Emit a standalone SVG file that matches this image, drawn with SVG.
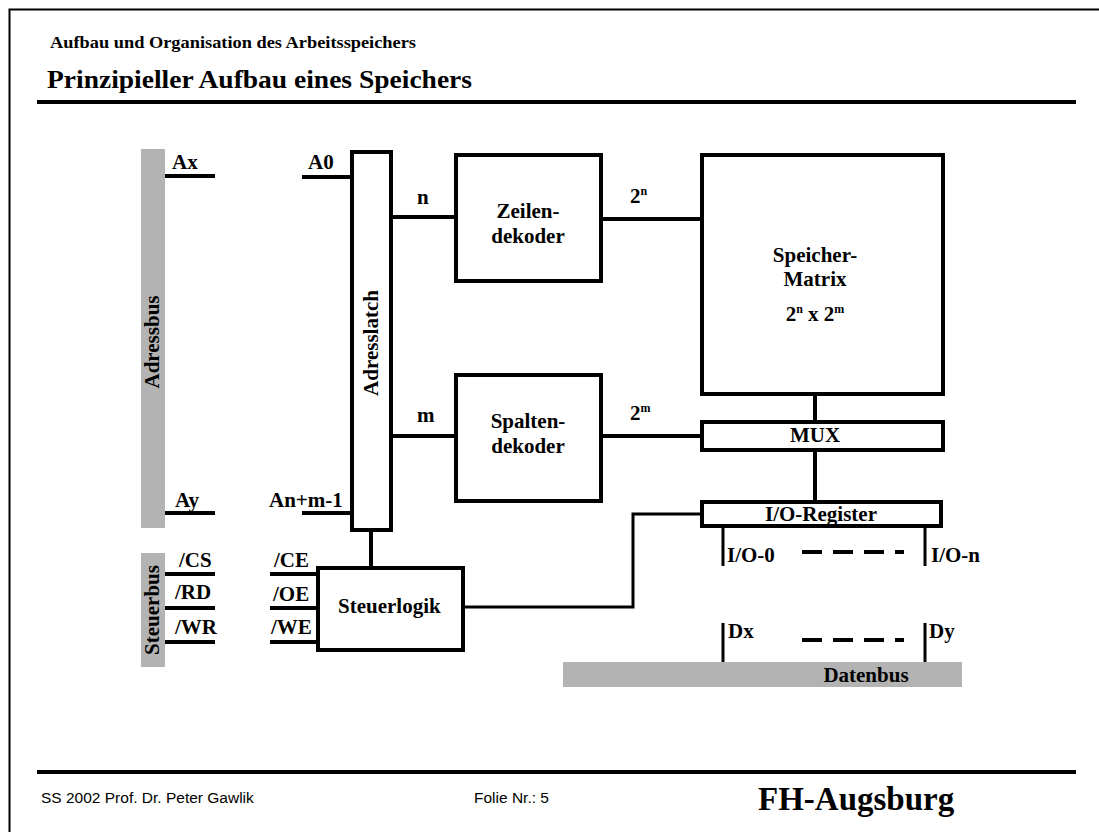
<svg xmlns="http://www.w3.org/2000/svg" width="1099" height="832" viewBox="0 0 1099 832">
<style>
.lbl{font-family:"Liberation Serif","Times New Roman",serif;font-weight:bold;font-size:21px;fill:#000}
.mid{text-anchor:middle}
.sup{font-size:12px}
.box{fill:#fff;stroke:#000;stroke-width:4}
.w{stroke:#000;stroke-width:4;fill:none}
.t{stroke:#000;stroke-width:3;fill:none}
.bus{fill:#b3b3b3}
.dash{stroke:#000;stroke-width:4;stroke-dasharray:20 11}
.foot{font-family:"Liberation Sans",Arial,sans-serif;font-size:15.5px;fill:#000}
</style>
<rect x="0" y="0" width="1099" height="832" fill="#fff"/>
<path d="M9.5 840 V9.5 H1110" fill="none" stroke="#000" stroke-width="2"/>
<g id="header">
<text x="50" y="48" class="lbl" style="font-size:17px" textLength="366" lengthAdjust="spacingAndGlyphs">Aufbau und Organisation des Arbeitsspeichers</text>
<text x="47" y="88" class="lbl" style="font-size:26px" textLength="425" lengthAdjust="spacingAndGlyphs">Prinzipieller Aufbau eines Speichers</text>
<rect x="37" y="100" width="1039" height="4" fill="#000"/>
</g>
<g id="footer">
<rect x="37" y="770" width="1039" height="4" fill="#000"/>
<text x="41" y="803" class="foot">SS 2002 Prof. Dr. Peter Gawlik</text>
<text x="474" y="803" class="foot">Folie Nr.: 5</text>
<text x="758" y="810" class="lbl" style="font-size:33px">FH-Augsburg</text>
</g>
<g id="adressbus">
<rect class="bus" x="141" y="149" width="24" height="379"/>
<text class="lbl mid" transform="translate(159,342) rotate(-90)">Adressbus</text>
</g>
<g id="steuerbus">
<rect class="bus" x="141" y="553" width="24" height="114"/>
<text class="lbl mid" transform="translate(159,610) rotate(-90)">Steuerbus</text>
</g>
<g id="datenbus">
<rect class="bus" x="563" y="662" width="399" height="25"/>
<text class="lbl mid" x="866" y="682">Datenbus</text>
</g>
<g id="adresslatch">
<rect class="box" x="352" y="152" width="39" height="378"/>
<text class="lbl mid" transform="translate(378,343) rotate(-90)">Adresslatch</text>
</g>
<g id="zeilendekoder">
<rect class="box" x="456" y="155" width="145" height="126"/>
<text class="lbl mid" x="528" y="218">Zeilen-</text>
<text class="lbl mid" x="528" y="243">dekoder</text>
</g>
<g id="spaltendekoder">
<rect class="box" x="456" y="375" width="145" height="126"/>
<text class="lbl mid" x="528" y="428">Spalten-</text>
<text class="lbl mid" x="528" y="453">dekoder</text>
</g>
<g id="matrix">
<rect class="box" x="702" y="155" width="241" height="239"/>
<text class="lbl mid" x="815" y="262">Speicher-</text>
<text class="lbl mid" x="815" y="286">Matrix</text>
<text class="lbl mid" x="815" y="321">2<tspan class="sup" dy="-8">n</tspan><tspan dy="8"> x 2</tspan><tspan class="sup" dy="-8">m</tspan></text>
</g>
<g id="mux">
<rect class="box" x="702" y="422" width="241" height="28"/>
<text class="lbl mid" x="815" y="442">MUX</text>
</g>
<g id="ioregister">
<rect class="box" x="702" y="502" width="239" height="24"/>
<text class="lbl mid" x="821" y="521">I/O-Register</text>
</g>
<g id="steuerlogik">
<rect class="box" x="318" y="568" width="145" height="82"/>
<text class="lbl" x="338" y="613">Steuerlogik</text>
</g>
<g id="connectors">
<path class="w" d="M165 176H215 M302 177H352 M391 217H456 M601 219H702 M391 436H456 M601 436H702 M165 513H215 M302 513H352 M371 530V568 M815 394V422 M815 450V502 M165 574H215 M165 608H215 M165 642H215 M270 574H318 M270 608H318 M270 642H318"/>
<path class="t" d="M463 607H633V514H702"/>
<path class="t" d="M723 526V566 M925 526V566 M723 623V662 M925 623V662"/>
<line class="dash" x1="802" y1="552" x2="904" y2="552"/>
<line class="dash" x1="802" y1="640" x2="904" y2="640"/>
</g>
<g id="labels">
<text class="lbl" x="172" y="169">Ax</text>
<text class="lbl" x="308" y="169">A0</text>
<text class="lbl" x="417" y="204">n</text>
<text class="lbl" x="630" y="203">2<tspan class="sup" dy="-8">n</tspan></text>
<text class="lbl" x="417" y="422">m</text>
<text class="lbl" x="630" y="420">2<tspan class="sup" dy="-8">m</tspan></text>
<text class="lbl" x="175" y="507">Ay</text>
<text class="lbl" x="269" y="507">An+m-1</text>
<text class="lbl" x="179" y="567">/CS</text>
<text class="lbl" x="175" y="599">/RD</text>
<text class="lbl" x="175" y="634">/WR</text>
<text class="lbl" x="274" y="567">/CE</text>
<text class="lbl" x="273" y="601">/OE</text>
<text class="lbl" x="271" y="634">/WE</text>
<text class="lbl" x="727" y="562">I/O-0</text>
<text class="lbl" x="931" y="562">I/O-n</text>
<text class="lbl" x="728" y="638">Dx</text>
<text class="lbl" x="929" y="638">Dy</text>
</g>
</svg>
